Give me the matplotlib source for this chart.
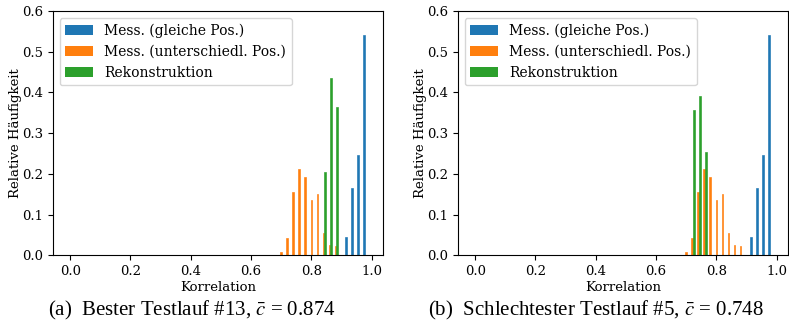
import numpy as np
import matplotlib
matplotlib.use("Agg")
import matplotlib.pyplot as plt

# histogram bins (width 0.02, centres 0.00 .. 0.98)
bin_edges = np.linspace(-0.01, 0.99, 51)
bin_centres = np.round((bin_edges[:-1] + bin_edges[1:]) / 2, 2)

labels = ["Mess. (gleiche Pos.)", "Mess. (unterschiedl. Pos.)", "Rekonstruktion"]

# relative frequencies per bin (only non-zero bins listed)
mess_gleich = {0.92: 0.045, 0.94: 0.165, 0.96: 0.247, 0.98: 0.542}
mess_unter = {0.70: 0.008, 0.72: 0.043, 0.74: 0.156, 0.76: 0.212, 0.78: 0.192,
              0.80: 0.136, 0.82: 0.151, 0.84: 0.055, 0.86: 0.025, 0.88: 0.023}
rekon_best = {0.84: 0.205, 0.86: 0.436, 0.88: 0.363}
rekon_worst = {0.72: 0.358, 0.74: 0.391, 0.76: 0.254}

captions = ["(a)  Bester Testlauf #13, $\\bar{c}$ = 0.874",
            "(b)  Schlechtester Testlauf #5, $\\bar{c}$ = 0.748"]

colors = ["#1f77b4", "#ff7f0e", "#2ca02c"]

def to_weights(d):
    return np.array([d.get(float(c), 0.0) for c in bin_centres])

plt.rcParams["font.family"] = "DejaVu Serif"
plt.rcParams["mathtext.fontset"] = "stix"

fig = plt.figure(figsize=(7.89, 3.29), dpi=100)
axes_pos = [[52.7 / 789, 1 - 255.3 / 329, 330.3 / 789, 244.3 / 329],
            [457.7 / 789, 1 - 255.3 / 329, 330.3 / 789, 244.3 / 329]]
caption_x = [192 / 789, 596 / 789]

for k, rekon in enumerate([rekon_best, rekon_worst]):
    ax = fig.add_axes(axes_pos[k])
    weights = [to_weights(mess_gleich), to_weights(mess_unter), to_weights(rekon)]
    _, _, patch_groups = ax.hist([bin_centres] * 3, bins=bin_edges, weights=weights,
                                 color=colors, label=labels)
    for patches, c in zip(patch_groups, colors):
        for p in patches:
            p.set_edgecolor(c)
            p.set_linewidth(0.45)
    ax.set_ylim(0, 0.6)
    ax.set_xticks([0.0, 0.2, 0.4, 0.6, 0.8, 1.0])
    ax.set_yticks([0.0, 0.1, 0.2, 0.3, 0.4, 0.5, 0.6])
    ax.tick_params(labelsize=9.5)
    ax.set_xlabel("Korrelation", fontsize=9.5, labelpad=2)
    ax.set_ylabel("Relative Häufigkeit", fontsize=9.5, labelpad=0)
    leg = ax.legend(loc="upper left", fontsize=10)
    for h in leg.legend_handles:
        h.set_linewidth(0)
    fig.text(caption_x[k], 0.055, captions[k], ha="center", va="center",
             fontsize=15, family="Liberation Serif")

fig.savefig("out.png", dpi=100)
